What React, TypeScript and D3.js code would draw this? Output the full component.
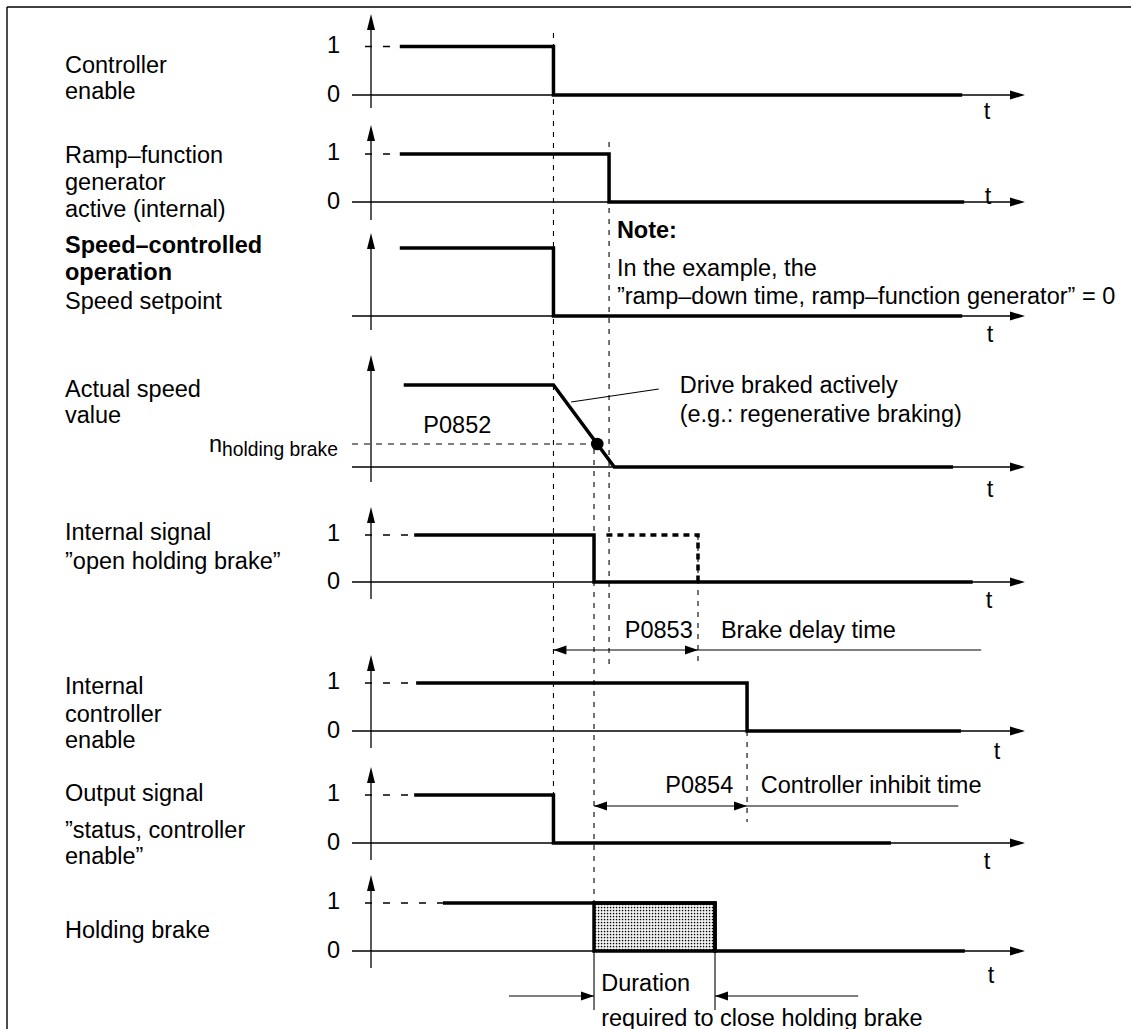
import React from "react";
import * as d3 from "d3";

type Pt = [number, number];

// ---------- data (time in arbitrary units, level 0..1) ----------
const tickLabels = ["0", "1"];
const controllerEnable: Pt[] = [[4.4, 1], [27.9, 1], [27.9, 0], [90.4, 0]];
const rampGenActive: Pt[] = [[4.4, 1], [36.4, 1], [36.4, 0], [90.7, 0]];
const speedSetpoint: Pt[] = [[4.4, 1], [27.9, 1], [27.9, 0], [90.4, 0]];
const actualSpeed: Pt[] = [[5.0, 1], [27.9, 1], [37.2, 0], [89.0, 0]];
const nHoldingBrake = 0.28;
const openBrakeSignal: Pt[] = [[6.6, 1], [34.1, 1], [34.1, 0], [92.0, 0]];
const openBrakeDelayed: Pt[] = [[36.0, 1], [50.0, 1], [50.0, 0]];
const internalEnable: Pt[] = [[6.9, 1], [57.5, 1], [57.5, 0], [90.2, 0]];
const statusEnable: Pt[] = [[6.6, 1], [27.9, 1], [27.9, 0], [79.5, 0]];
const holdingBrake: Pt[] = [[11.0, 1], [52.6, 1], [52.6, 0], [90.8, 0]];
const closingWindow = [34.1, 52.6];

// event times
const tEnableOff = 27.9;
const tRampOff = 36.4;
const tBrakeSignal = 34.1;
const tBrakeDelayEnd = 50.0;
const tInhibitEnd = 57.5;
const tBrakeClosed = 52.6;

// ---------- layout ----------
const FONT = "'Liberation Sans', Arial, Helvetica, sans-serif";
const FS = 23.5;
const W = 1131;
const H = 1029;
const x = d3.scaleLinear().domain([0, 100]).range([371, 1025]);
const AXIS_X = x(0);
const AXIS_START = 352;
const AXIS_END = x(100);

interface Panel {
  tip: number; y1: number; y0: number; bottom: number;
  tx: number; ty: number; ticks: boolean; data: Pt[];
  labels: { text: string; y: number; bold?: boolean }[];
}

const panels: Panel[] = [
  { tip: 14, y1: 46.5, y0: 95, bottom: 108, tx: 987, ty: 119, ticks: true, data: controllerEnable,
    labels: [{ text: "Controller", y: 73 }, { text: "enable", y: 99 }] },
  { tip: 125, y1: 154, y0: 202, bottom: 220, tx: 988, ty: 204, ticks: true, data: rampGenActive,
    labels: [{ text: "Ramp–function", y: 163 }, { text: "generator", y: 190 }, { text: "active (internal)", y: 217 }] },
  { tip: 233, y1: 248, y0: 316, bottom: 330, tx: 990, ty: 342, ticks: false, data: speedSetpoint,
    labels: [{ text: "Speed–controlled", y: 253, bold: true }, { text: "operation", y: 280, bold: true }, { text: "Speed setpoint", y: 309 }] },
  { tip: 355, y1: 385, y0: 467, bottom: 482, tx: 990, ty: 497, ticks: false, data: actualSpeed,
    labels: [{ text: "Actual speed", y: 397 }, { text: "value", y: 423 }] },
  { tip: 507, y1: 535, y0: 582, bottom: 599, tx: 989, ty: 608, ticks: true, data: openBrakeSignal,
    labels: [{ text: "Internal signal", y: 540 }, { text: "”open holding brake”", y: 569 }] },
  { tip: 655, y1: 683, y0: 731, bottom: 748, tx: 997, ty: 759, ticks: true, data: internalEnable,
    labels: [{ text: "Internal", y: 694 }, { text: "controller", y: 722 }, { text: "enable", y: 748 }] },
  { tip: 767, y1: 795, y0: 843, bottom: 860, tx: 987, ty: 869, ticks: true, data: statusEnable,
    labels: [{ text: "Output signal", y: 801 }, { text: "”status, controller", y: 838 }, { text: "enable”", y: 864 }] },
  { tip: 875, y1: 903, y0: 951, bottom: 968, tx: 991, ty: 983, ticks: true, data: holdingBrake,
    labels: [{ text: "Holding brake", y: 938 }] },
];

const yOf = (p: Panel) => d3.scaleLinear().domain([0, 1]).range([p.y0, p.y1]);

function hArrow(tipX: number, y: number, dir: number, len = 13, hw = 4.5) {
  return `M${tipX},${y}L${tipX - dir * len},${y - hw}L${tipX - dir * len},${y + hw}Z`;
}
function vArrowUp(xx: number, tipY: number, len = 16, hw = 4) {
  return `M${xx},${tipY}L${xx - hw},${tipY + len}L${xx + hw},${tipY + len}Z`;
}

export default function App() {
  const thick = 3.5;
  const thin = 1.3;
  const txt = { fontFamily: FONT, fontSize: FS, fill: "#000" } as const;

  const p4 = panels[3];
  const y4 = yOf(p4);
  const p5 = panels[4];
  const y5 = yOf(p5);
  const p8 = panels[7];
  const y8 = yOf(p8);

  const refLines: { t: number; ya: number; yb: number }[] = [
    { t: tEnableOff, ya: 33, yb: panels[6].y1 },
    { t: tRampOff, ya: 142, yb: 664 },
    { t: tBrakeSignal, ya: 449, yb: p8.y1 },
    { t: tBrakeDelayEnd, ya: p5.y1, yb: 666 },
    { t: tInhibitEnd, ya: panels[5].y0, yb: 822 },
  ];

  // dot on the ramp at n_holding brake
  const r0 = actualSpeed[1], r1 = actualSpeed[2];
  const tDot = r0[0] + (1 - nHoldingBrake) * (r1[0] - r0[0]);

  return (
    <svg width={W} height={H} style={{ position: "absolute", left: 0, top: 0, background: "#fff" }}>
      <defs>
        <pattern id="dots" width={3} height={3} patternUnits="userSpaceOnUse">
          <rect width={3} height={3} fill="#fff" />
          <rect x={0.8} y={0.8} width={1.5} height={1.5} fill="#000" />
        </pattern>
      </defs>
      <rect width={W} height={H} fill="#fff" />
      {/* frame */}
      <line x1={7} y1={7} x2={W} y2={7} stroke="#000" strokeWidth={1.4} />
      <line x1={7} y1={7} x2={7} y2={H} stroke="#000" strokeWidth={1.4} />

      {/* reference dashed verticals */}
      {refLines.map((r, i) => (
        <line key={"ref" + i} x1={x(r.t)} x2={x(r.t)} y1={r.ya} y2={r.yb}
          stroke="#000" strokeWidth={1.1} strokeDasharray="5,6" />
      ))}

      {panels.map((p, i) => {
        const y = yOf(p);
        const line = d3.line<Pt>().x(d => x(d[0])).y(d => y(d[1]));
        return (
          <g key={"p" + i}>
            {/* axes */}
            <line x1={AXIS_X} x2={AXIS_X} y1={p.bottom} y2={p.tip + 10} stroke="#000" strokeWidth={thin} />
            <path d={vArrowUp(AXIS_X, p.tip)} fill="#000" />
            <line x1={AXIS_START} x2={AXIS_END - 10} y1={p.y0} y2={p.y0} stroke="#000" strokeWidth={thin} />
            <path d={hArrow(AXIS_END, p.y0, 1, 15, 4.5)} fill="#000" />
            <text x={p.tx} y={p.ty} textAnchor="middle" {...txt}>t</text>
            {p.ticks && (
              <g>
                <text x={340} y={p.y1 + 6} textAnchor="end" {...txt}>{tickLabels[1]}</text>
                <text x={340} y={p.y0 + 7} textAnchor="end" {...txt}>{tickLabels[0]}</text>
                <line x1={365} x2={x(p.data[0][0])} y1={p.y1} y2={p.y1}
                  stroke="#000" strokeWidth={thin} strokeDasharray="7,11" />
              </g>
            )}
            {i !== 7 && (
              <path d={line(p.data) || ""} fill="none" stroke="#000" strokeWidth={thick} strokeLinejoin="miter" />
            )}
            {p.labels.map((l, j) => (
              <text key={j} x={65} y={l.y} {...txt} fontWeight={l.bold ? "bold" : "normal"}>{l.text}</text>
            ))}
          </g>
        );
      })}

      {/* actual speed: n holding brake */}
      <line x1={AXIS_START} x2={x(tDot)} y1={y4(nHoldingBrake)} y2={y4(nHoldingBrake)}
        stroke="#000" strokeWidth={1.1} strokeDasharray="6,6" />
      <circle cx={x(tDot)} cy={y4(nHoldingBrake)} r={6.3} fill="#000" />
      <text x={209} y={452} {...txt}>n<tspan fontSize={19.3} dy={4}>holding brake</tspan></text>
      <text x={x(8.0)} y={433} {...txt}>P0852</text>
      <line x1={x(30.6)} y1={402} x2={x(44.0)} y2={389} stroke="#000" strokeWidth={1.1} />
      <text x={x(47.2)} y={393} {...txt}>Drive braked actively</text>
      <text x={x(47.2)} y={422} {...txt}>(e.g.: regenerative braking)</text>

      {/* note */}
      <text x={x(37.6)} y={238} {...txt} fontWeight="bold">Note:</text>
      <text x={x(37.6)} y={276} {...txt}>In the example, the</text>
      <text x={x(37.6)} y={304} {...txt}>”ramp–down time, ramp–function generator” = 0</text>

      {/* delayed open brake (dashed thick) */}
      <path d={d3.line<Pt>().x(d => x(d[0])).y(d => y5(d[1]))(openBrakeDelayed) || ""}
        fill="none" stroke="#000" strokeWidth={thick} strokeDasharray="6,5" />

      {/* P0853 */}
      <line x1={x(tEnableOff)} x2={x(93.3)} y1={650} y2={650} stroke="#000" strokeWidth={1.1} />
      <path d={hArrow(x(tEnableOff), 650, -1)} fill="#000" />
      <path d={hArrow(x(tBrakeDelayEnd), 650, 1)} fill="#000" />
      <text x={x(38.8)} y={638} {...txt}>P0853</text>
      <text x={x(53.5)} y={638} {...txt}>Brake delay time</text>

      {/* P0854 */}
      <line x1={x(tBrakeSignal)} x2={x(89.8)} y1={806} y2={806} stroke="#000" strokeWidth={1.1} />
      <path d={hArrow(x(tBrakeSignal), 806, -1)} fill="#000" />
      <path d={hArrow(x(tInhibitEnd), 806, 1)} fill="#000" />
      <text x={x(45.0)} y={793} {...txt}>P0854</text>
      <text x={x(59.6)} y={793} {...txt}>Controller inhibit time</text>

      {/* holding brake */}
      <rect x={x(closingWindow[0])} y={y8(1)} width={x(closingWindow[1]) - x(closingWindow[0])}
        height={y8(0) - y8(1)} fill="url(#dots)" stroke="#000" strokeWidth={thick} />
      <path d={d3.line<Pt>().x(d => x(d[0])).y(d => y8(d[1]))(holdingBrake) || ""}
        fill="none" stroke="#000" strokeWidth={thick} />

      {/* duration */}
      <line x1={x(closingWindow[0])} x2={x(closingWindow[0])} y1={y8(0)} y2={1010} stroke="#000" strokeWidth={1.1} />
      <line x1={x(tBrakeClosed)} x2={x(tBrakeClosed)} y1={y8(0)} y2={1010} stroke="#000" strokeWidth={1.1} />
      <line x1={x(21.1)} x2={x(closingWindow[0])} y1={996} y2={996} stroke="#000" strokeWidth={1.1} />
      <path d={hArrow(x(closingWindow[0]), 996, 1)} fill="#000" />
      <line x1={x(tBrakeClosed)} x2={x(74.5)} y1={996} y2={996} stroke="#000" strokeWidth={1.1} />
      <path d={hArrow(x(tBrakeClosed), 996, -1)} fill="#000" />
      <text x={x(35.2)} y={991} {...txt}>Duration</text>
      <text x={x(35.2)} y={1026} {...txt}>required to close holding brake</text>
    </svg>
  );
}
